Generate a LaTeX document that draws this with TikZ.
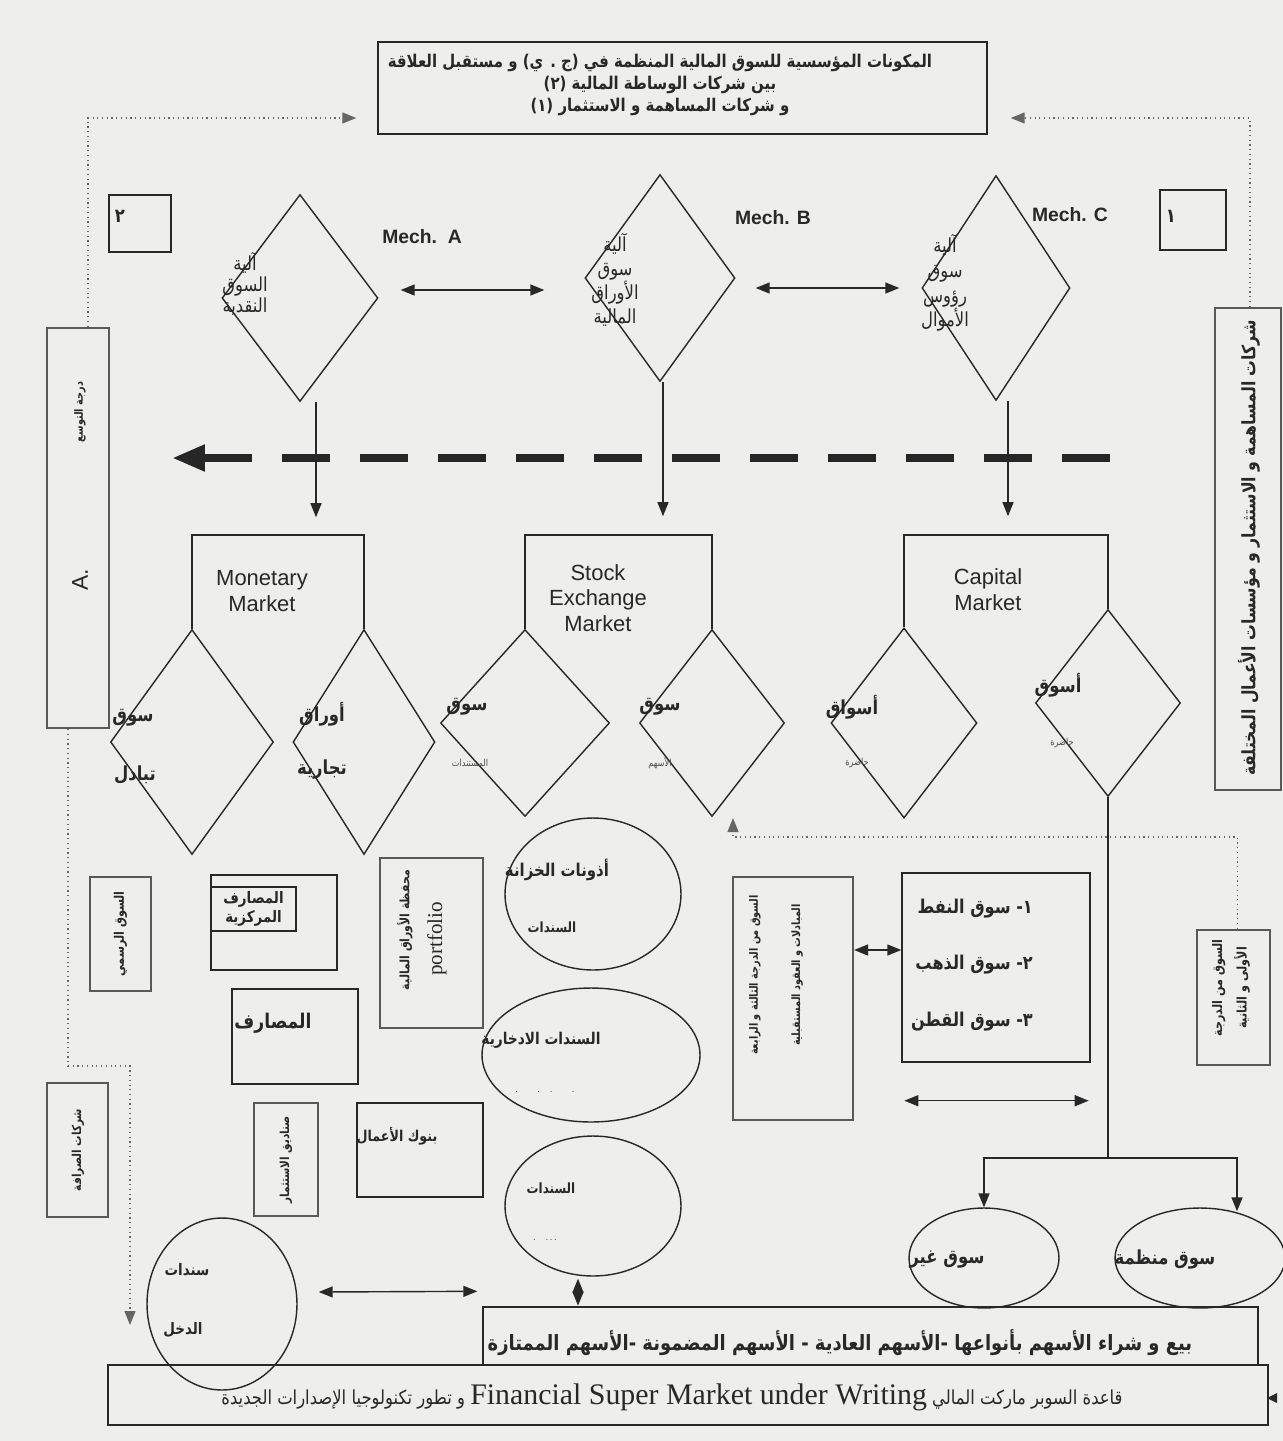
\documentclass[tikz,border=0pt]{standalone}
\usepackage{fontspec}
\setmainfont{Liberation Sans}
\newfontfamily\arabicfont[Script=Arabic, FakeStretch=0.85]{DejaVu Sans}
\newfontfamily\serifen{Liberation Serif}
\TeXXeTstate=1
\usetikzlibrary{arrows.meta,calc,fit,shapes.geometric}
\newcommand{\artx}[1]{{\arabicfont\beginR #1\endR}}
\definecolor{paper}{RGB}{238,238,236}
\definecolor{ink}{RGB}{40,40,40}
\tikzset{
	edgeline/.style={draw=ink, line width=0.8pt},
	box/.style={draw=ink, line width=0.8pt, inner sep=0pt},
	shadebox/.style={draw=black!65, line width=1.2pt, inner sep=0pt},
	rhomb/.style={diamond, draw=ink, line width=0.8pt, inner sep=0pt},
	oval/.style={ellipse, draw=ink, line width=0.8pt, inner sep=0pt},
	tip/.style={-{Triangle[length=2.8mm,width=2.2mm]}},
	link/.style={edgeline, tip},
	twoway/.style={edgeline, {Triangle[length=2.8mm,width=2.2mm]}-{Triangle[length=2.8mm,width=2.2mm]}},
	dots/.style={draw=black!60, line width=0.7pt, dotted},
	artext/.style={inner sep=0pt, text=ink, font=\bfseries\fontsize{11}{13}\selectfont},
	thintext/.style={inner sep=0pt, text=ink, font=\fontsize{11}{13}\selectfont},
	tinytext/.style={inner sep=0pt, text=black!70, font=\fontsize{5.5}{6}\selectfont},
	sidetext/.style={artext, rotate=90, align=center, font=\bfseries\fontsize{7.5}{9}\selectfont},
	mechlabel/.style={inner sep=0pt, text=ink, font=\bfseries\fontsize{11}{13}\selectfont},
	market/.style={inner sep=0pt, text=ink, align=center, font=\fontsize{12.5}{14.7}\selectfont},
}

\begin{document}
\begin{tikzpicture}[x=0.02cm, y=-0.02cm]
		%%%%% START %%%%%
		\useasboundingbox[fill=paper] (0,0) rectangle (1283,1441);
		
		% title and the two numbered boxes
		\node[box, fit={(378,42) (987,134)}] (topbox) {};
		\node[artext, align=center, font=\bfseries\fontsize{10}{12.5}\selectfont] (title) at (660,85) {\artx{المكونات المؤسسية للسوق المالية المنظمة في (ج . ي) و مستقبل العلاقة}\\\artx{بين شركات الوساطة المالية (٢)}\\\artx{و شركات المساهمة و الاستثمار (١)}};
		\node[box, fit={(109,195) (171,252)}] (boxTwo) {};
		\node[artext] (two) at (120,216) {\artx{٢}};
		\node[box, fit={(1160,190) (1226,250)}] (boxOne) {};
		\node[artext] (one) at (1171,216) {\artx{١}};
		
		% side boxes
		\node[shadebox, fit={(47,328) (109,728)}] (leftbox) {};
		\node[thintext, rotate=90, font=\fontsize{13}{15}\selectfont] (aMark) at (80,580) {A.};
		\node[sidetext, font=\bfseries\fontsize{6.5}{8}\selectfont] (leftTxt) at (80,412) {\artx{درجة التوسع}};
		\node[shadebox, fit={(1215,308) (1281,790)}] (rightbox) {};
		\node[sidetext, font=\bfseries\fontsize{10.5}{12}\selectfont] (rightTxt) at (1249,548) {\artx{شركات المساهمة و الاستثمار و مؤسسات الأعمال المختلفة}};
		\draw[dots, tip] ($(leftbox.north)+(10,0)$) |- ($(topbox.west)+(-21,30)$);
		\draw[dots, tip] ($(rightbox.north)+(2,0)$) |- ($(topbox.east)+(23,30)$);
		
		% the three mechanisms
		\node[rhomb, minimum width=3.12cm, minimum height=4.14cm] (mA) at (300,298) {};
		\node[rhomb, minimum width=3.0cm, minimum height=4.14cm] (mB) at (660,278) {};
		\node[rhomb, minimum width=2.96cm, minimum height=4.5cm] (mC) at (996,288) {};
		\node[thintext, align=center, font=\fontsize{11}{12}\selectfont] (mAtxt) at (245,284) {\artx{آلية}\\\artx{السوق}\\\artx{النقدية}};
		\node[thintext, align=center, font=\fontsize{11}{13.6}\selectfont] (mBtxt) at (615,280) {\artx{آلية}\\\artx{سوق}\\\artx{الأوراق}\\\artx{المالية}};
		\node[thintext, align=center, font=\fontsize{11}{14}\selectfont] (mCtxt) at (945,283) {\artx{آلية}\\\artx{سوق}\\\artx{رؤوس}\\\artx{الأموال}};
		\node[mechlabel] (mechA) at (422,237) {Mech.~~A};
		\node[mechlabel] (mechB) at (773,218) {Mech. B};
		\node[mechlabel] (mechC) at (1070,215) {Mech. C};
		\draw[twoway] ($(mA.east)+(22,-8)$) -- ($(mB.west)+(-40,12)$);
		\draw[twoway] ($(mB.east)+(20,10)$) -- ($(mC.west)+(-22,0)$);
		\draw[link] ($(mA.south)+(16,0)$) -- ++(0,115);
		\draw[link] ($(mB.south)+(3,0)$) -- ++(0,134);
		\draw[link] ($(mC.south)+(12,0)$) -- ++(0,115);
		
		\coordinate (dashR) at (1110,458);
		\coordinate (dashL) at (172,458);
		\draw[draw=black!85, line width=0.16cm, dash pattern=on 0.96cm off 0.6cm, -{Triangle[length=0.66cm,width=0.5cm]}] (dashR) -- (dashL);
		
		% the three markets
		\coordinate (mTop) at (0,535);
		\node[rhomb, minimum width=3.26cm, minimum height=4.5cm] (dL1) at (192,742) {};
		\node[rhomb, minimum width=2.84cm, minimum height=4.5cm] (dL2) at (364,742) {};
		\node[rhomb, minimum width=3.38cm, minimum height=3.74cm] (dL3) at (525,723) {};
		\node[rhomb, minimum width=2.9cm, minimum height=3.74cm] (dL4) at (712,723) {};
		\node[rhomb, minimum width=2.92cm, minimum height=3.8cm] (dL5) at (904,723) {};
		\node[rhomb, minimum width=2.9cm, minimum height=3.74cm] (dL6) at (1108,703) {};
		\draw[edgeline] (dL1.north) -- (dL1.north |- mTop) -| (dL2.north);
		\draw[edgeline] (dL3.north) -- (dL3.north |- mTop) -| (dL4.north);
		\draw[edgeline] (dL5.north) -- (dL5.north |- mTop) -| (dL6.north);
		\node[market] (monetary) at (262,591) {Monetary\\Market};
		\node[market] (stock) at (598,598) {Stock\\Exchange\\Market};
		\node[market] (capital) at (988,590) {Capital\\Market};
		
		\node[artext] at (133,718) {\artx{سوق}};
		\node[artext] at (135,775) {\artx{تبادل}};
		\node[artext] at (322,714) {\artx{أوراق}};
		\node[artext] at (322,770) {\artx{تجارية}};
		\node[artext] at (467,707) {\artx{سوق}};
		\node[tinytext] at (470,763) {\artx{المستندات}};
		\node[artext] at (660,707) {\artx{سوق}};
		\node[tinytext] at (660,763) {\artx{الأسهم}};
		\node[artext] at (852,707) {\artx{أسواق}};
		\node[tinytext] at (857,763) {\artx{حاضرة}};
		\node[artext] at (1058,685) {\artx{أسوق}};
		\node[tinytext] at (1062,743) {\artx{حاضرة}};
		
		% institutions
		\node[shadebox, fit={(90,877) (151,991)}] (official) {};
		\node[sidetext] at (official.center) {\artx{السوق الرسمي}};
		\node[box, fit={(211,875) (337,970)}] (central) {};
		\node[box, fit={(211,887) (296,931)}] (centralIn) {};
		\node[artext, align=center, font=\bfseries\fontsize{9}{10.5}\selectfont] at (centralIn.center) {\artx{المصارف}\\\artx{المركزية}};
		\node[shadebox, fit={(380,858) (483,1028)}] (portfolio) {};
		\node[sidetext, font=\bfseries\fontsize{7.3}{9}\selectfont] at (405,930) {\artx{محفظة الأوراق المالية}};
		\node[thintext, rotate=90, font=\serifen\fontsize{12}{14}\selectfont] at (437,939) {portfolio};
		\node[box, fit={(232,989) (358,1084)}] (banks) {};
		\node[artext, font=\bfseries\fontsize{11.5}{14}\selectfont] at (273,1023) {\artx{المصارف}};
		\node[box, fit={(357,1103) (483,1197)}] (investBanks) {};
		\node[artext, font=\bfseries\fontsize{8.5}{10}\selectfont] at (397,1136) {\artx{بنوك الأعمال}};
		\node[shadebox, fit={(254,1103) (318,1216)}] (funds) {};
		\node[sidetext, font=\bfseries\fontsize{7}{8}\selectfont] at (286,1160) {\artx{صناديق الاستثمار}};
		\node[shadebox, fit={(47,1083) (108,1217)}] (exchange) {};
		\node[sidetext, font=\bfseries\fontsize{7}{8}\selectfont] at (78,1150) {\artx{شركات الصرافة}};
		\coordinate (dropL) at (130,1325);
		\draw[dots, tip] ($(leftbox.south)+(-10,0)$) -- ++(0,337) -| (dropL);
		
		% bonds
		\node[oval, minimum width=3.52cm, minimum height=3.04cm] (eTreasury) at (593,894) {};
		\node[artext, font=\bfseries\fontsize{10}{12}\selectfont] at (557,870) {\artx{أذونات الخزانة}};
		\node[artext, font=\bfseries\fontsize{8}{10}\selectfont] at (552,927) {\artx{السندات}};
		\node[oval, minimum width=4.36cm, minimum height=2.68cm] (eSaving) at (591,1055) {};
		\node[artext, font=\bfseries\fontsize{9.2}{11}\selectfont] at (541,1040) {\artx{السندات الادخارية}};
		\node[tinytext] at (545,1092) {.\quad\quad.\quad.\quad\quad.};
		\node[oval, minimum width=3.52cm, minimum height=2.8cm] (eBonds) at (593,1206) {};
		\node[artext, font=\bfseries\fontsize{8}{10}\selectfont] at (551,1188) {\artx{السندات}};
		\node[tinytext] at (545,1240) {.\quad.\,.\,.};
		\node[oval, minimum width=3.0cm, minimum height=3.44cm] (eIncome) at (222,1304) {};
		\node[artext, font=\bfseries\fontsize{9}{11}\selectfont] at (187,1270) {\artx{سندات}};
		\node[artext, font=\bfseries\fontsize{9}{11}\selectfont] at (183,1330) {\artx{الدخل}};
		
		% commodity markets
		\node[shadebox, fit={(733,877) (853,1120)}] (third) {};
		\node[sidetext, font=\bfseries\fontsize{6.5}{24}\selectfont] at (776,975) {\artx{السوق من الدرجة الثالثة و الرابعة}\\\artx{المبادلات و العقود المستقبلية}};
		\node[box, fit={(902,873) (1090,1062)}] (commodity) {};
		\node[artext, align=right, font=\bfseries\fontsize{10.8}{32}\selectfont] at (972,965) {\artx{١- سوق النفط}\\\artx{٢- سوق الذهب}\\\artx{٣- سوق القطن}};
		\coordinate (oilRow) at (0,950);
		\draw[twoway] (third.east |- oilRow) -- (commodity.west |- oilRow);
		\draw[twoway] ($(commodity.south west)+(3,38)$) -- ($(commodity.south east)+(-2,38)$);
		\node[shadebox, fit={(1197,930) (1270,1065)}] (first) {};
		\node[sidetext, font=\bfseries\fontsize{7.5}{14}\selectfont] at (1231,988) {\artx{السوق من الدرجة}\\\artx{الأولى و الثانية}};
		\coordinate (upTip) at (733,818);
		\draw[dots, tip] ($(first.north)+(4,0)$) -- ++(0,-92) -| (upTip);
		
		% organised and unorganised markets
		\node[oval, minimum width=3.0cm, minimum height=2.0cm] (eNotOrg) at (984,1258) {};
		\node[oval, minimum width=3.4cm, minimum height=2.0cm] (eOrg) at (1200,1258) {};
		\node[artext, font=\bfseries\fontsize{11}{13}\selectfont] at (947,1260) {\artx{سوق غير}};
		\node[artext, font=\bfseries\fontsize{11}{13}\selectfont] at (1165,1260) {\artx{سوق منظمة}};
		\draw[edgeline] (dL6.south) -- ++(0,361) coordinate (split);
		\draw[link] (split) -| (eNotOrg.north);
		\draw[link] (split) -| ($(eOrg.north)+(37,4)$);
		
		% base of the diagram
		\node[box, fit={(483,1307) (1258,1365)}] (sellbox) {};
		\node[artext, font=\bfseries\fontsize{12}{14}\selectfont] at (840,1343) {\artx{بيع و شراء الأسهم بأنواعها -الأسهم العادية - الأسهم المضمونة -الأسهم الممتازة}};
		\node[box, fit={(108,1365) (1268,1425)}] (basebox) {};
		\node[thintext, font=\fontsize{11}{13}\selectfont] at (672,1397) {\artx{قاعدة السوبر ماركت المالي \beginL{\serifen\fontsize{17}{19}\selectfont Financial Super Market under Writing}\endL{} و تطور تكنولوجيا الإصدارات الجديدة}};
		\fill[ink] (1267,1398) -- (1277,1393) -- (1277,1403) -- cycle;
		\draw[twoway] ($(eIncome.east)+(21,-12)$) -- ($(sellbox.north west)+(-5,-15)$);
		\draw[twoway] ($(eBonds.south)+(-15,2)$) -- ++(0,27);
		
		%%%%% END %%%%%
	\end{tikzpicture}
\end{document}
